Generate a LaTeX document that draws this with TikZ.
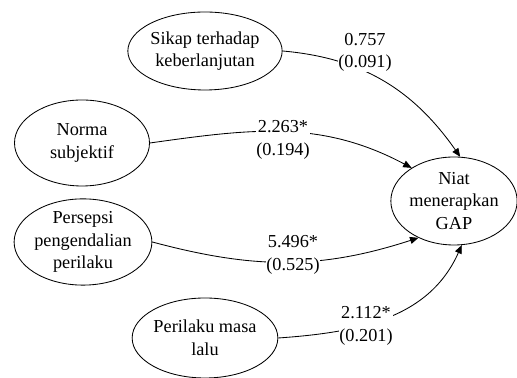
\documentclass[tikz,border=0pt]{standalone}
\usepackage{fontspec}
\setmainfont{Liberation Serif}
\usetikzlibrary{shapes.geometric, arrows.meta, positioning}

\begin{document}
\begin{tikzpicture}[
  latent/.style={ellipse, draw, line width=0.6pt, inner sep=0pt, minimum width=3.4cm, minimum height=2cm, align=center, font=\fontsize{13}{16}\selectfont},
  coef/.style={fill=white, inner sep=0.5pt, align=center, font=\fontsize{13}{16}\selectfont},
  arr/.style={-{Triangle[length=6pt, width=5pt]}, line width=0.6pt},
]
\useasboundingbox (0,0) rectangle (12.925,9.45);

\node[latent, minimum width=3.4cm,   minimum height=1.95cm] (sikap)    at (5.125,8.175) {Sikap terhadap\\keberlanjutan};
\node[latent, minimum width=3.375cm, minimum height=2.15cm] (norma)    at (2.05,5.875)  {Norma\\subjektif};
\node[latent, minimum width=3.425cm, minimum height=2.15cm] (persepsi) at (2.075,3.4)   {Persepsi\\pengendalian\\perilaku};
\node[latent, minimum width=3.375cm, minimum height=2cm]    (masa)     at (5.125,1.0)   {Perilaku masa\\lalu};
\node[latent, minimum width=3.1cm,   minimum height=2.2cm]  (niat)     at (11.35,4.425) {Niat\\menerapkan\\GAP};

\draw[arr] (sikap.east)    to[out=-5,  in=125] (niat.82);
\draw[arr] (norma.east)    to[out=8,   in=152] (niat.142);
\draw[arr] (persepsi.east) to[out=-15, in=198] (niat.226);
\draw[arr] (masa.east)     to[out=4,   in=246] (niat.280);

% path coefficients (standard errors)
\node[coef] (c1) at (9.125,8.14) {0.757\\(0.091)};
\node[coef] (c2) at (7.075,5.95) {2.263*\\(0.194)};
\node[coef] (c3) at (7.325,3.08) {5.496*\\(0.525)};
\node[coef] (c4) at (9.15,1.3)   {2.112*\\(0.201)};
\end{tikzpicture}
\end{document}
